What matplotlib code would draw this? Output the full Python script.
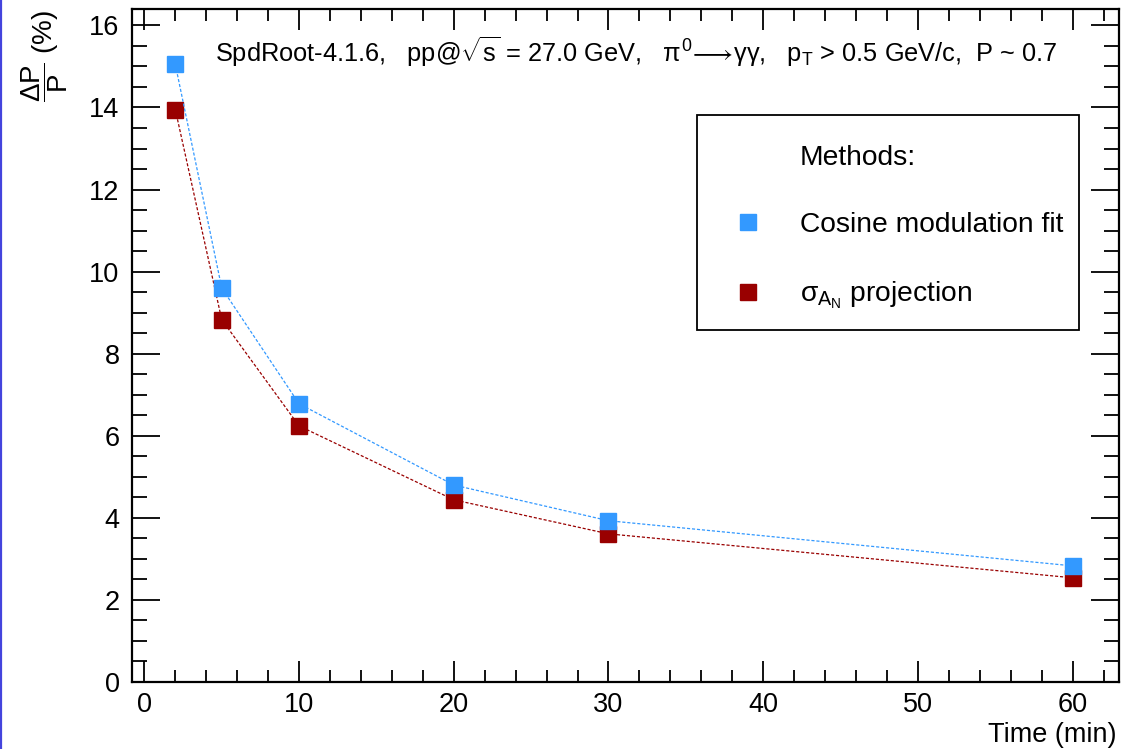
import matplotlib
matplotlib.use("Agg")
import matplotlib.pyplot as plt
from matplotlib.lines import Line2D
from matplotlib.patches import Rectangle
from matplotlib.ticker import MultipleLocator

plt.rcParams['font.family'] = ['Liberation Sans', 'DejaVu Sans']
plt.rcParams['mathtext.fontset'] = 'custom'
plt.rcParams['mathtext.rm'] = 'Liberation Sans'
plt.rcParams['mathtext.it'] = 'Liberation Sans'
plt.rcParams['mathtext.bf'] = 'Liberation Sans:bold'

# polarisation precision vs. data taking time
time_min = [2, 5, 10, 20, 30, 60]
cosine_fit = [15.05, 9.60, 6.78, 4.80, 3.93, 2.83]
sigma_an = [13.95, 8.83, 6.24, 4.44, 3.61, 2.54]

blue = '#3399ff'
red = '#990000'

fig = plt.figure(figsize=(11.28, 7.49), dpi=100)
ax = fig.add_axes([132 / 1128, 67 / 749, 987 / 1128, 673 / 749])

ax.plot(time_min, sigma_an, color=red, ls=(0, (2.5, 1.5)), lw=0.9,
        marker='s', ms=12, mec=red, mfc=red, zorder=3)
ax.plot(time_min, cosine_fit, color=blue, ls=(0, (2.5, 1.5)), lw=0.9,
        marker='s', ms=12, mec=blue, mfc=blue, zorder=4)

ax.set_xlim(-0.8, 63.0)
ax.set_ylim(0, 16.4)

ax.xaxis.set_major_locator(MultipleLocator(10))
ax.xaxis.set_minor_locator(MultipleLocator(2))
ax.yaxis.set_major_locator(MultipleLocator(2))
ax.yaxis.set_minor_locator(MultipleLocator(0.5))
ax.tick_params(which='both', direction='in', top=True, right=True,
               labelsize=19.5, width=1.3, colors='black')
ax.tick_params(axis='x', which='major', length=15, pad=7)
ax.tick_params(axis='x', which='minor', length=8.5)
ax.tick_params(axis='y', which='major', length=20, pad=9)
ax.tick_params(axis='y', which='minor', length=11)
for s in ax.spines.values():
    s.set_linewidth(1.6)

ax.text(0.511, 0.937,
        r'SpdRoot-4.1.6,   pp@$\sqrt{s}$ = 27.0 GeV,   '
        r'$\pi^{0}\!\longrightarrow\!\gamma\gamma$,   p$_{T}$ > 0.5 GeV/c,  P ~ 0.7',
        transform=ax.transAxes, ha='center', va='center', fontsize=18.3)

# legend: header row plus one entry per method, frame drawn separately
handles = [Line2D([], [], ls='none'),
           Line2D([], [], ls='none', marker='s', ms=11, color=blue),
           Line2D([], [], ls='none', marker='s', ms=11, color=red)]
labels = ['Methods:', 'Cosine modulation fit', r'$\sigma_{A_N}$ projection']
leg = ax.legend(handles, labels, loc='upper left',
                bbox_to_anchor=((697 - 132) / 987, (682 - 115) / 673),
                fontsize=20.3, frameon=False, borderpad=1.05,
                labelspacing=1.47, handlelength=1.5, handletextpad=1.1,
                borderaxespad=0)
ax.add_patch(Rectangle(((697 - 132) / 987, (682 - 330) / 673),
                       (1079 - 697) / 987, (330 - 115) / 673,
                       transform=ax.transAxes, fill=False, ec='black',
                       lw=1.3, zorder=5))

fig.text(45 / 1128, 1 - 10 / 749, r'$\dfrac{\Delta P}{P}$ (%)', rotation=90,
         ha='center', va='top', fontsize=20)
fig.text(1116 / 1128, 1 - 735 / 749, 'Time (min)', ha='right', va='center',
         fontsize=19.5)

# thin blue bar along the left edge of the canvas
fig.add_artist(Line2D([1 / 1128, 1 / 1128], [0, 1], color='#4444dd', lw=1.6))

fig.savefig('out.png', dpi=100)
